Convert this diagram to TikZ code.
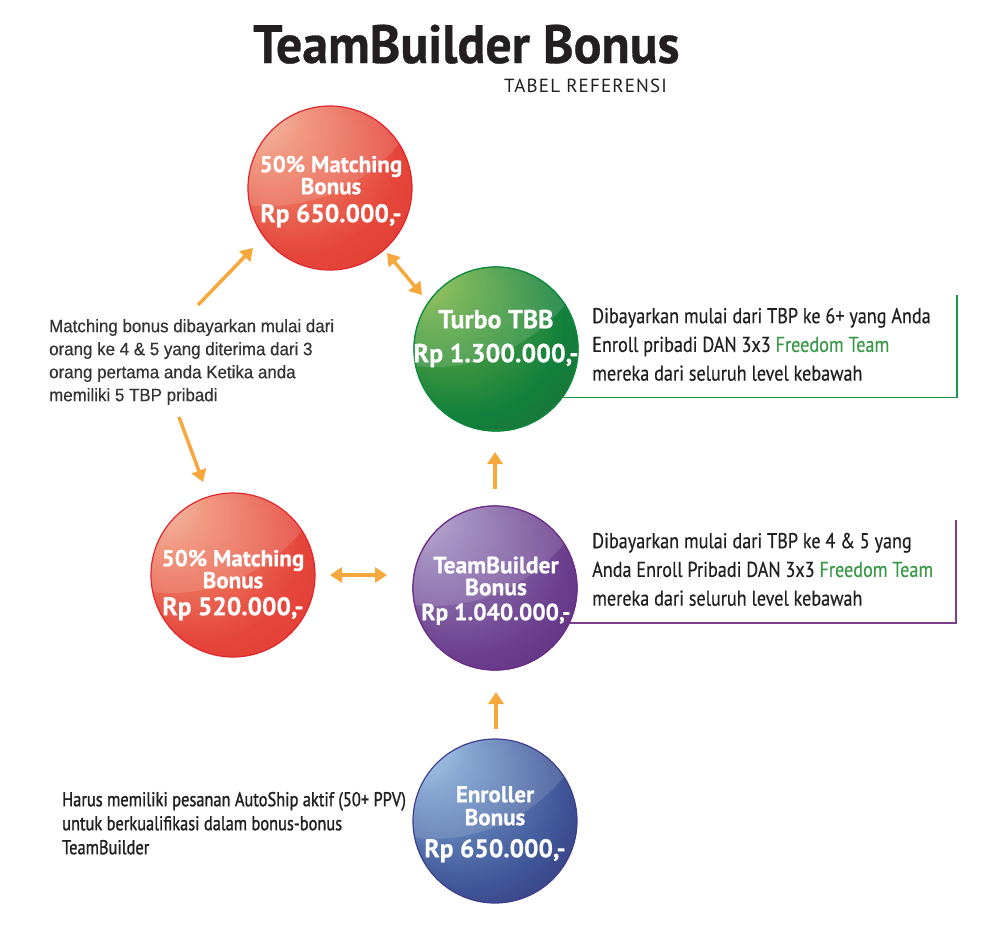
\documentclass[tikz,border=0pt]{standalone}
\usepackage{fontspec}
\setmainfont{PT Sans}
\newfontfamily\titlefont[FakeStretch=0.96,FakeBold=0.6]{PT Sans}
\newfontfamily\ballfam[FakeBold=0.5]{PT Sans}
\newfontfamily\condfont[FakeStretch=0.845,FakeBold=0.4]{PT Sans}
\newfontfamily\bcondfont[FakeStretch=0.82,FakeBold=1.2]{PT Sans}
\newfontfamily\narrowfont[FakeStretch=0.94,FakeBold=0.4]{Liberation Sans}
\usetikzlibrary{arrows.meta,calc}
\definecolor{ink}{HTML}{231F20}
\definecolor{grayink}{HTML}{333333}
\definecolor{orng}{HTML}{F7A83C}
\definecolor{ftgreen}{HTML}{3A9A48}
\definecolor{boxgreen}{HTML}{1E9646}
\definecolor{boxpurple}{HTML}{7B3F8E}
\definecolor{redA}{HTML}{F9C8B9}
\definecolor{redB}{HTML}{EF8A6E}
\definecolor{redC}{HTML}{E5453A}
\definecolor{redD}{HTML}{E13A30}
\definecolor{redE}{HTML}{E2262D}
\definecolor{grnA}{HTML}{AFCD52}
\definecolor{grnB}{HTML}{5FA843}
\definecolor{grnC}{HTML}{12803C}
\definecolor{grnD}{HTML}{2A6634}
\definecolor{grnE}{HTML}{0E8A3E}
\definecolor{purA}{HTML}{BEB5D8}
\definecolor{purB}{HTML}{947DB6}
\definecolor{purC}{HTML}{6C3F8E}
\definecolor{purD}{HTML}{552474}
\definecolor{purE}{HTML}{6B2E86}
\definecolor{bluA}{HTML}{B6DDF3}
\definecolor{bluB}{HTML}{7499CB}
\definecolor{bluC}{HTML}{3F5597}
\definecolor{bluD}{HTML}{33276A}
\definecolor{bluE}{HTML}{3E3E8F}
\pgfdeclareradialshading{redshade}{\pgfpoint{-28bp}{28bp}}{color(0bp)=(redA); color(12bp)=(redB); color(30bp)=(redC); color(45bp)=(redD)}
\pgfdeclareradialshading{grnshade}{\pgfpoint{-28bp}{28bp}}{color(0bp)=(grnA); color(12bp)=(grnB); color(30bp)=(grnC); color(45bp)=(grnD)}
\pgfdeclareradialshading{purshade}{\pgfpoint{-28bp}{28bp}}{color(0bp)=(purA); color(12bp)=(purB); color(30bp)=(purC); color(45bp)=(purD)}
\pgfdeclareradialshading{blushade}{\pgfpoint{-28bp}{28bp}}{color(0bp)=(bluA); color(12bp)=(bluB); color(30bp)=(bluC); color(45bp)=(bluD)}
\newcommand\ballfont[2]{\ballfam\bfseries\fontsize{#1}{#2}\selectfont}
\newcommand\rpfont[2]{\fontsize{#1}{#2}\selectfont}
\newcommand\bodyfont{\condfont\fontsize{21.5}{28.7}\selectfont}
\tikzset{
  ballbase/.style={circle, minimum size=164pt, inner sep=0pt, line width=1.2pt, shade,
    path picture={\fill[white,opacity=0.13] ($(path picture bounding box.center)+(-63,-153)$) circle (171);}},
  redball/.style={ballbase, draw=redE, shading=redshade},
  greenball/.style={ballbase, draw=grnE, shading=grnshade},
  purpleball/.style={ballbase, draw=purE, shading=purshade},
  blueball/.style={ballbase, draw=bluE, shading=blushade},
  balltext/.style={text=white, align=center, anchor=north, inner sep=0pt},
  bodytext/.style={anchor=north west, align=left, inner sep=0pt, text=ink, font=\bodyfont},
  arr/.style={draw=orng, line width=3.5pt, -{Triangle[length=12pt,width=15pt]}},
  darr/.style={draw=orng, line width=3.5pt, {Triangle[length=12pt,width=15pt]}-{Triangle[length=12pt,width=15pt]}},
}
\lineskiplimit=-50pt
\begin{document}
\begin{tikzpicture}[x=1pt,y=-1pt]
\useasboundingbox (0,0) rectangle (994,937);
\fill[white] (0,0) rectangle (994,937);

% title
\node[anchor=base west, inner sep=0pt, text=ink, font=\titlefont\bfseries\fontsize{54}{60}\selectfont] (title) at (253,63) {TeamBuilder Bonus};
\node[anchor=base east, inner sep=0pt, text=ink, font=\fontsize{19}{20}\selectfont\addfontfeature{LetterSpace=6}] (subtitle) at (667,92) {TABEL REFERENSI};

% box lines
\coordinate (gtop) at (957,295);
\coordinate (ptop) at (956,520);
\node[greenball] (green) at (496,349) {};
\node[purpleball] (purple) at (495,588) {};
\draw[boxgreen, line width=1.8pt] (green.-36) -| (gtop);
\draw[boxpurple, line width=1.8pt] (purple.-25) -| (ptop);

% balls
\node[redball] (topred) at (330,188) {};
\node[greenball] at (green) {};
\node[redball] (leftred) at (233,575) {};
\node[purpleball] at (purple) {};
\node[blueball] (blue) at (495,821) {};

% ball texts
\node[balltext, font=\ballfont{23}{22}] (ttopred) at (331,152) {\rule{0pt}{20pt}50\% Matching\\Bonus\\[6pt]{\rpfont{25.5}{22}Rp 650.000,-}};
\node[balltext, font=\ballfont{26}{34}] (tgreen) at (496,308) {\rule{0pt}{20pt}Turbo TBB\\Rp 1.300.000,-};
\node[balltext, font=\ballfont{23}{22}] (tleftred) at (233,546) {\rule{0pt}{20pt}50\% Matching\\Bonus\\[5pt]{\rpfont{25.5}{22}Rp 520.000,-}};
\node[balltext, font=\ballfont{23.5}{22}] (tpurple) at (496,553) {\rule{0pt}{20pt}TeamBuilder\\Bonus\\[3pt]Rp 1.040.000,-};
\node[balltext, font=\ballfont{23}{23}] (tblue) at (495,782) {\rule{0pt}{20pt}Enroller\\Bonus\\[9pt]{\rpfont{25.5}{23}Rp 650.000,-}};

% descriptive texts
\node[bodytext] (gtext) at (592,303) {\rule{0pt}{20pt}Dibayarkan mulai dari TBP ke 6+ yang Anda\\Enroll pribadi DAN 3x3 \textcolor{ftgreen}{Freedom Team}\\mereka dari seluruh level kebawah};
\node[bodytext] (ptext) at (592,528) {\rule{0pt}{20pt}Dibayarkan mulai dari TBP ke 4 \& 5 yang\\Anda Enroll Pribadi DAN 3x3 \textcolor{ftgreen}{Freedom Team}\\mereka dari seluruh level kebawah};
\node[anchor=north west, align=left, inner sep=0pt, text=grayink, font=\narrowfont\fontsize{18}{23}\selectfont] (ltext) at (49,316) {\rule{0pt}{16pt}Matching bonus dibayarkan mulai dari\\orang ke 4 \& 5 yang diterima dari 3\\orang pertama anda Ketika anda\\memiliki 5 TBP pribadi};
\node[anchor=north west, align=left, inner sep=0pt, text=ink, font=\bcondfont\fontsize{20}{24}\selectfont] (btext) at (62,789) {\rule{0pt}{17pt}Harus memiliki pesanan AutoShip aktif (50+ PPV)\\untuk berkualifikasi dalam bonus-bonus\\TeamBuilder};

% arrows
\coordinate (a1s) at (198,305); \coordinate (a1e) at (253,248);
\coordinate (a2s) at (179,417); \coordinate (a2e) at (203,482);
\coordinate (a3s) at (387,253); \coordinate (a3e) at (422,295);
\coordinate (a4s) at (330,575); \coordinate (a4e) at (387,575);
\coordinate (a5s) at (495,489); \coordinate (a5e) at (495,452);
\coordinate (a6s) at (496,729); \coordinate (a6e) at (496,692);
\draw[arr] (a1s) -- (a1e);
\draw[arr] (a2s) -- (a2e);
\draw[darr] (a3s) -- (a3e);
\draw[darr] (a4s) -- (a4e);
\draw[arr] (a5s) -- (a5e);
\draw[arr] (a6s) -- (a6e);
\end{tikzpicture}
\end{document}
